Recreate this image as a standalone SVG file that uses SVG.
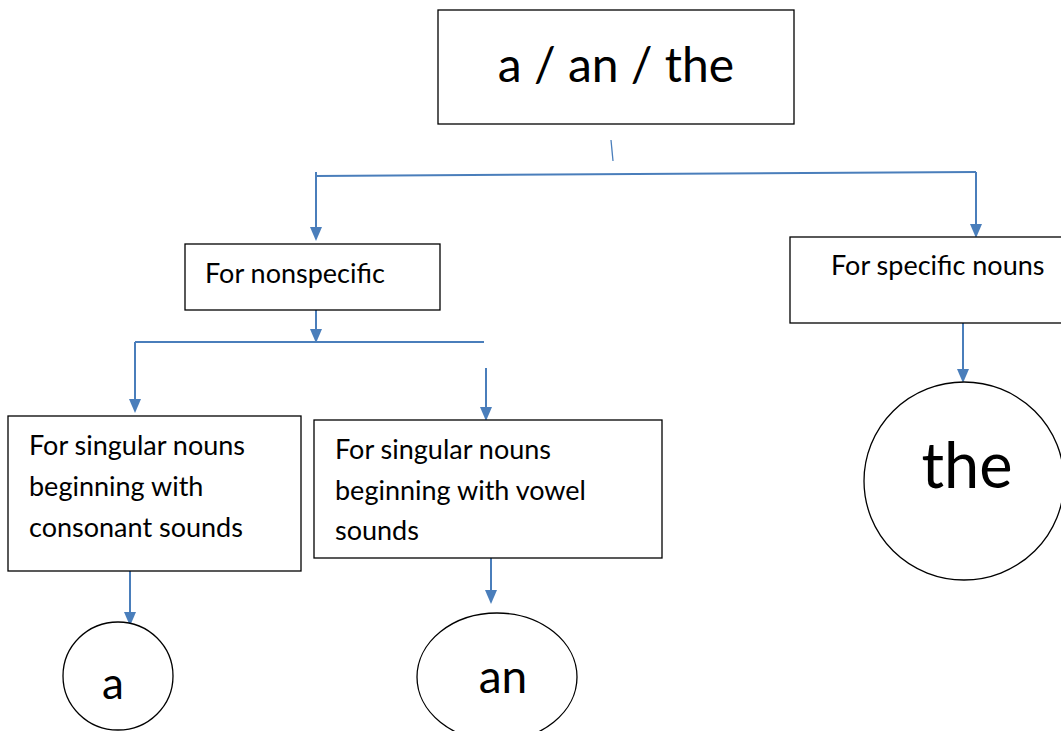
<svg xmlns="http://www.w3.org/2000/svg" width="1061" height="731" viewBox="0 0 1061 731">
<defs>
<style>
.box{fill:#fff;stroke:#000;stroke-width:1.3}
.t{font-family:Lato,"Open Sans",sans-serif;fill:#000}
.s{font-size:27px}
.c{stroke:#4a7ebb;stroke-width:2;fill:none}
.h{fill:#4a7ebb}
</style>
</defs>
<rect width="1061" height="731" fill="#fff"/>
<g id="connectors">
<line class="c" x1="611" y1="140" x2="613" y2="161" style="stroke-width:1.3"/>
<line class="c" x1="316" y1="176" x2="976" y2="172"/>
<line class="c" x1="316" y1="172" x2="316" y2="228"/>
<path class="h" d="M310,227 L322,227 L316,241 Z"/>
<line class="c" x1="976" y1="172" x2="976" y2="225"/>
<path class="h" d="M970,224 L982,224 L976,238 Z"/>
<line class="c" x1="316" y1="310" x2="316" y2="330"/>
<path class="h" d="M310,329 L322,329 L316,343 Z"/>
<line class="c" x1="135" y1="342" x2="484" y2="342"/>
<line class="c" x1="135" y1="342" x2="135" y2="400"/>
<path class="h" d="M129,399 L141,399 L135,413 Z"/>
<line class="c" x1="486" y1="368" x2="486" y2="408"/>
<path class="h" d="M480,407 L492,407 L486,421 Z"/>
<line class="c" x1="963" y1="323" x2="963" y2="370"/>
<path class="h" d="M957,369 L969,369 L963,383 Z"/>
<line class="c" x1="130" y1="571" x2="130" y2="613"/>
<path class="h" d="M124,612 L136,612 L130,626 Z"/>
<line class="c" x1="491" y1="558" x2="491" y2="591"/>
<path class="h" d="M485,590 L497,590 L491,604 Z"/>
</g>
<g id="top">
<rect class="box" x="438" y="10" width="356" height="114"/>
<text class="t" x="616" y="82" font-size="48" text-anchor="middle">a / an / the</text>
</g>
<g id="nonspecific">
<rect class="box" x="185" y="244" width="255" height="66"/>
<text class="t s" x="205" y="283">For nonspecific</text>
</g>
<g id="specific">
<rect class="box" x="790" y="237" width="275" height="86"/>
<text class="t s" x="831" y="275">For specific nouns</text>
</g>
<g id="consonant">
<rect class="box" x="8" y="416" width="293" height="155"/>
<text class="t s"><tspan x="29" y="455">For singular nouns</tspan><tspan x="29" y="496">beginning with</tspan><tspan x="29" y="537">consonant sounds</tspan></text>
</g>
<g id="vowel">
<rect class="box" x="314" y="420" width="348" height="138"/>
<text class="t s"><tspan x="335" y="459">For singular nouns</tspan><tspan x="335" y="500">beginning with vowel</tspan><tspan x="335" y="540">sounds</tspan></text>
</g>
<g id="the">
<ellipse class="box" cx="964" cy="481" rx="100" ry="99"/>
<text class="t" x="967" y="488" font-size="63" text-anchor="middle">the</text>
</g>
<g id="a">
<ellipse class="box" cx="118" cy="676" rx="55" ry="54"/>
<text class="t" x="113" y="699" font-size="44" text-anchor="middle">a</text>
</g>
<g id="an">
<ellipse class="box" cx="497" cy="677" rx="80" ry="64"/>
<text class="t" x="503" y="693" font-size="46" text-anchor="middle">an</text>
</g>
</svg>
